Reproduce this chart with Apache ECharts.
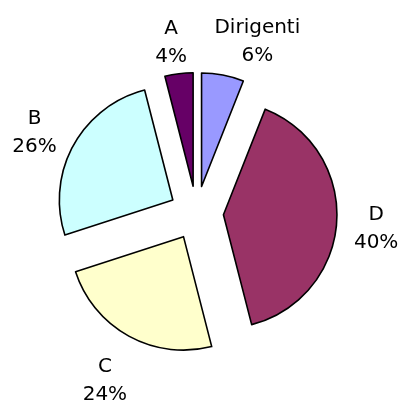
<!DOCTYPE html>
<html>
<head>
<meta charset="utf-8">
<script src="https://cdn.jsdelivr.net/npm/echarts@6/dist/echarts.min.js"></script>
<style>
    html, body { margin: 0; padding: 0; background: #fff; }
    #chart { width: 403px; height: 401px; }
</style>
</head>
<body>
<div id="chart"></div>
<script>
// dati della torta (in senso orario dalle ore 12)
var categories = ['Dirigenti', 'D', 'C', 'B', 'A'];
var values = [6, 40, 24, 26, 4];
var colors = ['#9999FF', '#993366', '#FFFFCC', '#CCFFFF', '#660066'];

var center = [196.5, 213];
var pieRadius = 113.5;
var labelRadius = 183;
// piccoli spostamenti delle etichette (px) per somigliare all'originale
var labelNudge = [[26, 12], [-6, 4], [-2, 5], [1, 9], [-2, 14]];

var pieData = [];
var labelData = [];
for (var i = 0; i < categories.length; i++) {
    pieData.push({
        name: categories[i],
        value: values[i],
        selected: true,
        itemStyle: { color: colors[i] }
    });
    labelData.push({
        name: categories[i],
        value: values[i],
        label: { offset: labelNudge[i] }
    });
}

var myChart = echarts.init(document.getElementById('chart'));

var option = {
    animation: false,
    backgroundColor: '#ffffff',
    series: [
        {
            type: 'pie',
            center: center,
            radius: pieRadius,
            startAngle: 90,
            clockwise: true,
            selectedMode: 'multiple',
            selectedOffset: 27,
            avoidLabelOverlap: false,
            silent: true,
            itemStyle: { borderColor: '#000', borderWidth: 1.6 },
            select: { itemStyle: { borderColor: '#000', borderWidth: 1.6 } },
            emphasis: { disabled: true },
            label: { show: false },
            labelLine: { show: false },
            data: pieData
        },
        {
            // solo per le etichette
            type: 'pie',
            center: center,
            radius: [labelRadius - 5, labelRadius + 5],
            startAngle: 90,
            clockwise: true,
            silent: true,
            percentPrecision: 0,
            avoidLabelOverlap: false,
            itemStyle: { color: 'rgba(0,0,0,0)', borderWidth: 0 },
            emphasis: { disabled: true },
            label: {
                show: true,
                position: 'inside',
                formatter: '{b}\n{d}%',
                fontFamily: 'DejaVu Sans',
                fontSize: 20,
                lineHeight: 28,
                color: '#000'
            },
            labelLine: { show: false },
            data: labelData
        }
    ]
};

myChart.setOption(option);
</script>
</body>
</html>
